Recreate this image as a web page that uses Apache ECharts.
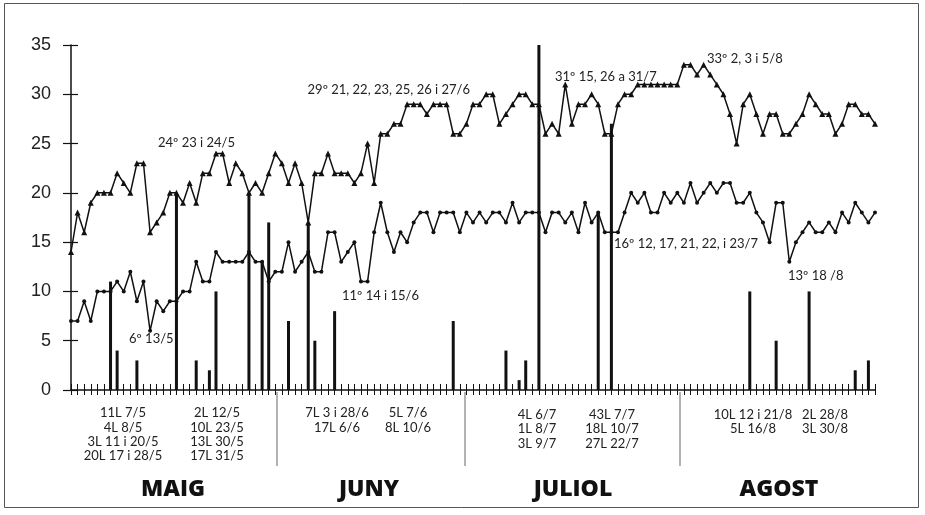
<!DOCTYPE html>
<html><head><meta charset="utf-8">
<script src="https://cdn.jsdelivr.net/npm/echarts@6/dist/echarts.min.js"></script>
<style>html,body{margin:0;padding:0;background:#fff}#c{width:925px;height:515px}</style>
</head><body><div id="c"></div>
<script>
const monthNames = ['MAIG','JUNY','JULIOL','AGOST'];
const monthNums = [5,6,7,8];
const monthLengths = [31,30,31,31];
const yTicks = [0,5,10,15,20,25,30,35];

const maxMay = [14,18,16,19,20,20,20,22,21,20,23,23,16,17,18,20,20,19,21,19,22,22,24,24,21,23,22,20,21,20,22];
const maxJun = [24,23,21,23,21,17,22,22,24,22,22,22,21,22,25,21,26,26,27,27,29,29,29,28,29,29,29,26,26,27];
const maxJul = [29,29,30,30,27,28,29,30,30,29,29,26,27,26,31,27,29,29,30,29,26,26,29,30,30,31,31,31,31,31,31];
const maxAug = [31,33,33,32,33,32,31,30,28,25,29,30,28,26,28,28,26,26,27,28,30,29,28,28,26,27,29,29,28,28,27];
const minMay = [7,7,9,7,10,10,10,11,10,12,9,11,6,9,8,9,9,10,10,13,11,11,14,13,13,13,13,14,13,13,11];
const minJun = [12,12,15,12,13,14,12,12,16,16,13,14,15,11,11,16,19,16,14,16,15,17,18,18,16,18,18,18,16,18];
const minJul = [17,18,17,18,18,17,19,17,18,18,18,16,18,18,17,18,16,19,17,18,16,16,16,18,20,19,20,18,18,20,19];
const minAug = [20,19,21,19,20,21,20,21,21,19,19,20,18,17,15,19,19,13,15,16,17,16,16,17,16,18,17,19,18,17,18];

const precipDays = ['7/5','8/5','11/5','17/5','20/5','22/5','23/5','28/5','30/5','31/5','3/6','6/6','7/6','10/6','28/6','6/7','8/7','9/7','11/7','20/7','22/7','12/8','16/8','21/8','28/8','30/8'];
const precipVals = [11,4,3,20,3,2,10,20,13,17,7,17,5,8,7,4,1,3,43,18,27,10,5,10,2,3];

const noteMayA = ['11L 7/5','4L 8/5','3L 11 i 20/5','20L 17 i 28/5'];
const noteMayB = ['2L 12/5','10L 23/5','13L 30/5','17L 31/5'];
const noteJunA = ['7L 3 i 28/6','17L 6/6'];
const noteJunB = ['5L 7/6','8L 10/6'];
const noteJulA = ['4L 6/7','1L 8/7','3L 9/7'];
const noteJulB = ['43L 7/7','18L 10/7','27L 22/7'];
const noteAugA = ['10L 12 i 21/8','5L 16/8'];
const noteAugB = ['2L 28/8','3L 30/8'];
const extremes = ['24º 23 i 24/5','6º 13/5','29º 21, 22, 23, 25, 26 i 27/6','11º 14 i 15/6','31º 15, 26 a 31/7','16º 12, 17, 21, 22, i 23/7','33º 2, 3 i 5/8','13º 18 /8'];

const days = [];
monthNums.forEach((m,i)=>{ for(let d=1; d<=monthLengths[i]; d++) days.push(d+'/'+m); });
const maxT = maxMay.concat(maxJun, maxJul, maxAug);
const minT = minMay.concat(minJun, minJul, minAug);
const precip = precipDays.map((d,i)=>[d, precipVals[i]]);

const FONT = 'Lato, "Open Sans", sans-serif';
const g = [];
g.push({type:'rect', shape:{x:4.5,y:3.5,width:914,height:504}, style:{fill:'none',stroke:'#555',lineWidth:1}, silent:true});
[277,465,680].forEach(x=> g.push({type:'line', shape:{x1:x,y1:392,x2:x,y2:466}, style:{stroke:'#666',lineWidth:1}}));
function col(lines, cx, y0, dy){
  lines.forEach((t,i)=> g.push({type:'text', x:cx, y:y0+i*dy, style:{text:t, textAlign:'center', textVerticalAlign:'middle', fontSize:13, fontFamily:FONT, fill:'#222'}}));
}
col(noteMayA,123,413,14.4); col(noteMayB,217,413,14.4);
col(noteJunA,337,413,14.4); col(noteJunB,408,413,14.4);
col(noteJulA,537,415,14.2); col(noteJulB,612,415,14.2);
col(noteAugA,753,415,14.2); col(noteAugB,825,415,14.2);
const monthX = [173,369,573,779];
monthNames.forEach((n,i)=> g.push({type:'text', x:monthX[i], y:489, style:{text:n, textAlign:'center', textVerticalAlign:'middle', fontSize:23, fontWeight:800, fontFamily:'"Open Sans", sans-serif', fill:'#111'}}));
const extPos = [[158,143,'left'],[129,339,'left'],[470,90,'right'],[342,296,'left'],[555,77,'left'],[614,244,'left'],[707,59,'left'],[788,276,'left']];
extremes.forEach((t,i)=> g.push({type:'text', x:extPos[i][0], y:extPos[i][1], style:{text:t, textAlign:extPos[i][2], textVerticalAlign:'middle', fontSize:13, fontFamily:FONT, fill:'#222'}}));

const chart = echarts.init(document.getElementById('c'), null, {renderer:'canvas'});
chart.setOption({
  animation:false,
  backgroundColor:'#fff',
  grid:{left:71, right:50, top:45, bottom:125},
  xAxis:[
    {type:'category', data:days, boundaryGap:false, axisLine:{lineStyle:{color:'#111',width:1.5}},
     axisTick:{show:true, interval:0, length:5, lineStyle:{color:'#111',width:1}}, axisLabel:{show:false}, splitLine:{show:false}},
    {type:'category', data:days, boundaryGap:false, position:'bottom', axisLine:{show:false},
     axisTick:{show:true, interval:0, inside:true, length:6, lineStyle:{color:'#111',width:1}}, axisLabel:{show:false}, splitLine:{show:false}}
  ],
  yAxis:[
    {type:'value', min:0, max:35, interval:5, axisLine:{show:true, lineStyle:{color:'#111',width:1.5}},
     axisTick:{show:true, length:8, lineStyle:{color:'#111',width:1.2}},
     axisLabel:{color:'#222', fontSize:18, fontFamily:'"Liberation Sans", Arial, sans-serif', margin:20,
       formatter:v=> yTicks.indexOf(v)>=0 ? String(v) : ''},
     splitLine:{show:false}},
    {type:'value', min:0, max:35, interval:5, position:'left', axisLine:{show:false},
     axisTick:{show:true, inside:true, length:7, lineStyle:{color:'#111',width:1.2}},
     axisLabel:{show:false}, splitLine:{show:false}}
  ],
  series:[
    {type:'bar', data:precip, barWidth:3, clip:true, itemStyle:{color:'#111'}, z:2},
    {type:'line', data:maxT, symbol:'triangle', symbolSize:6, showAllSymbol:true, lineStyle:{color:'#111',width:1.5}, itemStyle:{color:'#111'}, z:3},
    {type:'line', data:minT, symbol:'circle', symbolSize:4, showAllSymbol:true, lineStyle:{color:'#111',width:1.5}, itemStyle:{color:'#111'}, z:3}
  ],
  graphic:g
});
</script></body></html>
